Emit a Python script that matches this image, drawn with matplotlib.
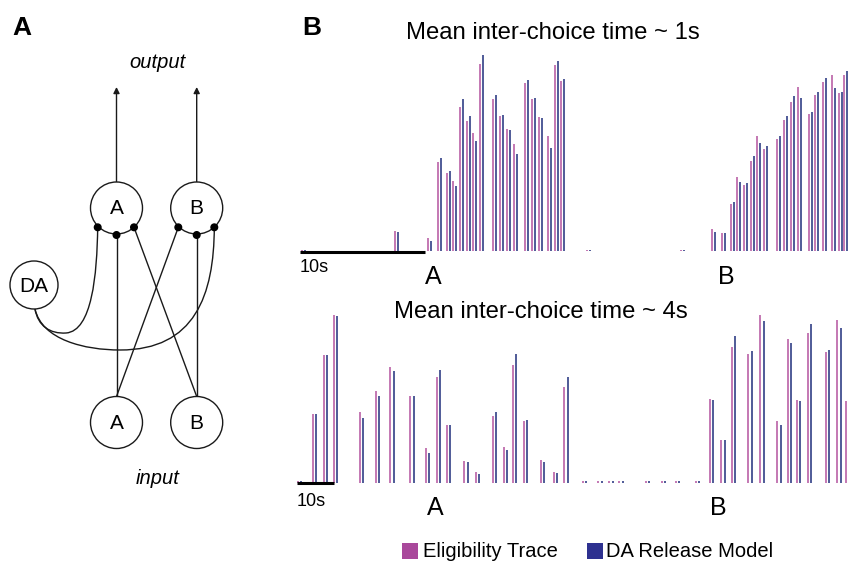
import matplotlib
matplotlib.use("Agg")
import matplotlib.pyplot as plt
from matplotlib.patches import Circle, FancyArrowPatch, PathPatch, Rectangle
from matplotlib.path import Path

plt.rcParams['font.family'] = ['Liberation Sans', 'DejaVu Sans']

# ---------------- data ----------------
# Top panel (mean inter-choice time ~ 1s): choice times (s) and response heights
top_times = [0.16, 7.6, 10.22, 11.06, 11.74, 12.26, 12.82, 13.36, 13.82, 14.42,
             15.42, 16.0, 16.56, 17.14, 18.0, 18.56, 19.12, 19.86, 20.42, 20.88,
             22.96, 30.48,
             32.96, 33.78, 34.46, 34.96, 35.54, 36.08, 36.58, 37.14, 38.14, 38.72,
             39.28, 39.86, 40.7, 41.2, 41.84, 42.58, 43.14, 43.54]
top_elig = [0.006, 0.10, 0.063, 0.444, 0.389, 0.35, 0.722, 0.65, 0.589, 0.935,
            0.76, 0.677, 0.608, 0.537, 0.84, 0.76, 0.668, 0.575, 0.932, 0.85,
            0.006, 0.006,
            0.108, 0.092, 0.233, 0.37, 0.328, 0.452, 0.573, 0.508, 0.56, 0.655,
            0.745, 0.818, 0.685, 0.782, 0.843, 0.88, 0.788, 0.878]
top_da = [0.006, 0.095, 0.052, 0.465, 0.402, 0.325, 0.76, 0.673, 0.55, 0.978,
          0.78, 0.682, 0.605, 0.485, 0.855, 0.763, 0.665, 0.517, 0.952, 0.858,
          0.006, 0.006,
          0.097, 0.092, 0.243, 0.345, 0.338, 0.473, 0.538, 0.523, 0.573, 0.677,
          0.773, 0.763, 0.695, 0.797, 0.865, 0.815, 0.795, 0.898]

# Bottom panel (mean inter-choice time ~ 4s)
bot_times = [0.27, 4.32, 7.22, 9.92, 17.03, 21.35, 25.22, 30.62, 34.78, 37.84,
             40.54, 45.22, 48.38, 52.97, 55.86, 58.3, 61.27, 65.95, 69.46, 72.24,
             77.22, 81.43, 84.41, 87.11, 94.24, 98.57, 102.35, 107.76,
             111.62, 114.68, 117.49, 121.97, 125.22, 129.81, 132.62, 135.14,
             138.11, 142.89, 146.03, 148.38]
bot_elig = [0.008, 0.343, 0.638, 0.837, 0.355, 0.458, 0.58, 0.433, 0.175, 0.527,
            0.287, 0.108, 0.055, 0.333, 0.18, 0.588, 0.307, 0.113, 0.055, 0.478,
            0.008, 0.008, 0.008, 0.008, 0.008, 0.008, 0.008, 0.008,
            0.42, 0.215, 0.678, 0.642, 0.837, 0.308, 0.72, 0.412,
            0.75, 0.652, 0.812, 0.41]
bot_da = [0.008, 0.343, 0.638, 0.832, 0.322, 0.435, 0.558, 0.433, 0.15, 0.562,
          0.287, 0.102, 0.045, 0.352, 0.165, 0.643, 0.313, 0.103, 0.047, 0.528,
          0.008, 0.008, 0.008, 0.008, 0.008, 0.008, 0.008, 0.008,
          0.412, 0.215, 0.733, 0.66, 0.807, 0.29, 0.697, 0.408,
          0.792, 0.662, 0.772, 0.40]

scale_bar_s = 10
series_labels = ["Eligibility Trace", "DA Release Model"]
titles = ["Mean inter-choice time ~ 1s", "Mean inter-choice time ~ 4s"]

# ---------------- styles ----------------
PINK = '#c478b3'
BLUE = '#4f5b98'
PINK_LEG = '#a9489b'
BLUE_LEG = '#2e3190'
LINE = '#1a1a1a'

W, H = 848, 562
fig = plt.figure(figsize=(W / 100, H / 100), dpi=100)


def add_px_axes(left, right, y0, y1):
    """axes with x from px left..right, y-data 0 at px y0 and 1 at px y1"""
    return fig.add_axes([left / W, (H - y0) / H, (right - left) / W, (y0 - y1) / H])


def draw_panel(ax, times, elig, da, xmax, offset):
    ax.set_xlim(0, xmax)
    ax.set_ylim(0, 1)
    ax.axis('off')
    ax.vlines(times, 0, elig, colors=PINK, linewidth=1.4)
    ax.vlines([t + offset for t in times], 0, da, colors=BLUE, linewidth=1.4)
    ax.plot([0, scale_bar_s], [-0.004, -0.004], color='black', linewidth=2.2,
            solid_capstyle='butt', clip_on=False)


ax_top = add_px_axes(300, 848, 251, 51)
draw_panel(ax_top, top_times, top_elig, top_da, 43.84, 0.24)

ax_bot = add_px_axes(297, 848, 482.5, 282.5)
draw_panel(ax_bot, bot_times, bot_elig, bot_da, 148.9, 0.9)

# ---------------- overlay (panel A diagram + labels) ----------------
ov = fig.add_axes([0, 0, 1, 1])
ov.set_xlim(0, W)
ov.set_ylim(H, 0)
ov.axis('off')
ov.patch.set_alpha(0)

lw = 1.0
# circles
nodes = {'outA': (116.5, 208), 'outB': (196.7, 208), 'inA': (116.5, 422.5),
         'inB': (196.7, 422.5)}
R = 26
for key, (cx, cy) in nodes.items():
    ov.add_patch(Circle((cx, cy), R, facecolor='white', edgecolor=LINE, linewidth=lw, zorder=3))
    ov.text(cx, cy + 1, key[-1], ha='center', va='center', fontsize=15, zorder=4)
ov.add_patch(Circle((34, 285), 24, facecolor='white', edgecolor=LINE, linewidth=lw, zorder=3))
ov.text(34, 286, 'DA', ha='center', va='center', fontsize=15, zorder=4)

# output arrows
for cx in (116.5, 196.7):
    ov.add_patch(FancyArrowPatch((cx, 182), (cx, 87), arrowstyle='-|>', mutation_scale=9,
                                 color=LINE, linewidth=lw, shrinkA=0, shrinkB=0))

# synapse dots
dotsA = [(97.7, 227.3), (116.5, 235), (134, 227.3)]
dotsB = [(178.3, 227.3), (196.7, 235), (214.3, 227.3)]
for (x, y) in dotsA + dotsB:
    ov.add_patch(Circle((x, y), 3.3, facecolor='black', edgecolor='black', zorder=5))

# input connections
ov.plot([116.5, 116.5], [396.5, 235], color=LINE, lw=lw, zorder=2)
ov.plot([196.7, 196.7], [396.5, 235], color=LINE, lw=lw, zorder=2)
ov.plot([116.5, 178.3], [396.5, 227.3], color=LINE, lw=lw, zorder=2)
ov.plot([196.7, 134], [396.5, 227.3], color=LINE, lw=lw, zorder=2)

# DA modulatory curves
p1 = Path([(35, 309), (38, 326), (50, 334), (66, 333),
           (92, 331), (97, 275), (97.7, 227.3)],
          [Path.MOVETO, Path.CURVE4, Path.CURVE4, Path.CURVE4,
           Path.CURVE4, Path.CURVE4, Path.CURVE4])
p2 = Path([(35, 309), (42, 340), (85, 350), (120, 350),
           (195, 350), (214, 295), (214.3, 227.3)],
          [Path.MOVETO, Path.CURVE4, Path.CURVE4, Path.CURVE4,
           Path.CURVE4, Path.CURVE4, Path.CURVE4])
for p in (p1, p2):
    ov.add_patch(PathPatch(p, facecolor='none', edgecolor=LINE, linewidth=lw, zorder=2))

ov.text(157, 63, 'output', ha='center', va='center', fontsize=14.5, style='italic')
ov.text(158, 478, 'input', ha='center', va='center', fontsize=14.5, style='italic')

# panel letters
ov.text(12, 28, 'A', ha='left', va='center', fontsize=19, fontweight='bold')
ov.text(302, 28, 'B', ha='left', va='center', fontsize=19, fontweight='bold')

# titles
ov.text(553, 33, titles[0], ha='center', va='center', fontsize=17.2)
ov.text(541, 312, titles[1], ha='center', va='center', fontsize=17.2)

# scale bar labels & choice labels
ov.text(300, 268, '10s', ha='left', va='center', fontsize=13)
ov.text(297, 502, '10s', ha='left', va='center', fontsize=13)
ov.text(433, 277, 'A', ha='center', va='center', fontsize=18)
ov.text(726, 277, 'B', ha='center', va='center', fontsize=18)
ov.text(435, 508, 'A', ha='center', va='center', fontsize=18)
ov.text(718, 508, 'B', ha='center', va='center', fontsize=18)

# legend
ov.add_patch(Rectangle((402, 543), 16, 16, facecolor=PINK_LEG, edgecolor='none'))
ov.text(423, 557, series_labels[0], ha='left', va='baseline', fontsize=14.5)
ov.add_patch(Rectangle((587, 543), 16, 16, facecolor=BLUE_LEG, edgecolor='none'))
ov.text(606, 557, series_labels[1], ha='left', va='baseline', fontsize=14.5)

fig.savefig('out.png', dpi=100)
